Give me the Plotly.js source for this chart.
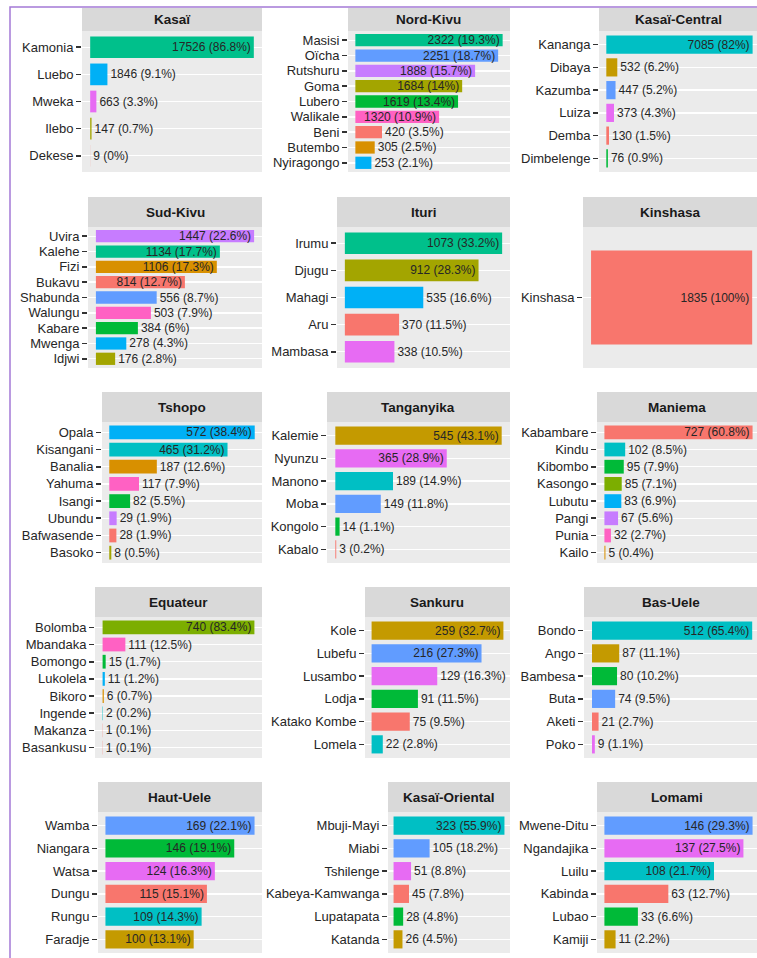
<!DOCTYPE html>
<html><head><meta charset="utf-8">
<script src="https://cdn.plot.ly/plotly-3.0.1.min.js"></script>
<style>html,body{margin:0;padding:0;background:#fff}#chart{width:757px;height:958px}</style>
</head><body><div id="chart"></div>
<script>
// ---------- DATA ----------
const kasai_names = ["Kamonia","Luebo","Mweka","Ilebo","Dekese"];
const kasai_values = [17526,1846,663,147,9];
const kasai_pct = ["86.8","9.1","3.3","0.7","0"];

const nordkivu_names = ["Masisi","Oïcha","Rutshuru","Goma","Lubero","Walikale","Beni","Butembo","Nyiragongo"];
const nordkivu_values = [2322,2251,1888,1684,1619,1320,420,305,253];
const nordkivu_pct = ["19.3","18.7","15.7","14","13.4","10.9","3.5","2.5","2.1"];

const kasaicentral_names = ["Kananga","Dibaya","Kazumba","Luiza","Demba","Dimbelenge"];
const kasaicentral_values = [7085,532,447,373,130,76];
const kasaicentral_pct = ["82","6.2","5.2","4.3","1.5","0.9"];

const sudkivu_names = ["Uvira","Kalehe","Fizi","Bukavu","Shabunda","Walungu","Kabare","Mwenga","Idjwi"];
const sudkivu_values = [1447,1134,1106,814,556,503,384,278,176];
const sudkivu_pct = ["22.6","17.7","17.3","12.7","8.7","7.9","6","4.3","2.8"];

const ituri_names = ["Irumu","Djugu","Mahagi","Aru","Mambasa"];
const ituri_values = [1073,912,535,370,338];
const ituri_pct = ["33.2","28.3","16.6","11.5","10.5"];

const kinshasa_names = ["Kinshasa"];
const kinshasa_values = [1835];
const kinshasa_pct = ["100"];

const tshopo_names = ["Opala","Kisangani","Banalia","Yahuma","Isangi","Ubundu","Bafwasende","Basoko"];
const tshopo_values = [572,465,187,117,82,29,28,8];
const tshopo_pct = ["38.4","31.2","12.6","7.9","5.5","1.9","1.9","0.5"];

const tanganyika_names = ["Kalemie","Nyunzu","Manono","Moba","Kongolo","Kabalo"];
const tanganyika_values = [545,365,189,149,14,3];
const tanganyika_pct = ["43.1","28.9","14.9","11.8","1.1","0.2"];

const maniema_names = ["Kabambare","Kindu","Kibombo","Kasongo","Lubutu","Pangi","Punia","Kailo"];
const maniema_values = [727,102,95,85,83,67,32,5];
const maniema_pct = ["60.8","8.5","7.9","7.1","6.9","5.6","2.7","0.4"];

const equateur_names = ["Bolomba","Mbandaka","Bomongo","Lukolela","Bikoro","Ingende","Makanza","Basankusu"];
const equateur_values = [740,111,15,11,6,2,1,1];
const equateur_pct = ["83.4","12.5","1.7","1.2","0.7","0.2","0.1","0.1"];

const sankuru_names = ["Kole","Lubefu","Lusambo","Lodja","Katako Kombe","Lomela"];
const sankuru_values = [259,216,129,91,75,22];
const sankuru_pct = ["32.7","27.3","16.3","11.5","9.5","2.8"];

const basuele_names = ["Bondo","Ango","Bambesa","Buta","Aketi","Poko"];
const basuele_values = [512,87,80,74,21,9];
const basuele_pct = ["65.4","11.1","10.2","9.5","2.7","1.1"];

const hautuele_names = ["Wamba","Niangara","Watsa","Dungu","Rungu","Faradje"];
const hautuele_values = [169,146,124,115,109,100];
const hautuele_pct = ["22.1","19.1","16.3","15.1","14.3","13.1"];

const kasaioriental_names = ["Mbuji-Mayi","Miabi","Tshilenge","Kabeya-Kamwanga","Lupatapata","Katanda"];
const kasaioriental_values = [323,105,51,45,28,26];
const kasaioriental_pct = ["55.9","18.2","8.8","7.8","4.8","4.5"];

const lomami_names = ["Mwene-Ditu","Ngandajika","Luilu","Kabinda","Lubao","Kamiji"];
const lomami_values = [146,137,108,63,33,11];
const lomami_pct = ["29.3","27.5","21.7","12.7","6.6","2.2"];

const province_titles = ["Kasaï","Nord-Kivu","Kasaï-Central","Sud-Kivu","Ituri","Kinshasa","Tshopo","Tanganyika","Maniema","Equateur","Sankuru","Bas-Uele","Haut-Uele","Kasaï-Oriental","Lomami"];

// ---------- STYLE ----------
const pal = {sal:"#F8766D", org:"#D89000", gold:"#C49A00", olv:"#A3A500", ygr:"#7CAE00", grn:"#00BA38",
  tgr:"#00C08B", cyn:"#00BFC4", sky:"#00B0F6", blu:"#619CFF", pur:"#C77CFF", mag:"#E76BF3", pnk:"#FF61C3"};
const colorKeys = [
  ["tgr","sky","mag","olv","sal"],
  ["tgr","blu","pur","olv","grn","pnk","sal","org","sky"],
  ["cyn","gold","blu","mag","sal","grn"],
  ["pur","tgr","org","sal","blu","pnk","grn","sky","olv"],
  ["tgr","olv","sky","sal","mag"],
  ["sal"],
  ["sky","cyn","org","pnk","grn","pur","sal","olv"],
  ["gold","mag","cyn","blu","grn","sal"],
  ["sal","cyn","grn","ygr","sky","pur","pnk","org"],
  ["ygr","pnk","grn","sky","org","cyn","sal","sal"],
  ["gold","blu","mag","grn","sal","cyn"],
  ["cyn","gold","grn","blu","sal","mag"],
  ["blu","grn","mag","sal","cyn","gold"],
  ["cyn","blu","mag","sal","grn","gold"],
  ["blu","mag","cyn","sal","grn","gold"]
];

const data_sets = [
  [kasai_names,kasai_values,kasai_pct],
  [nordkivu_names,nordkivu_values,nordkivu_pct],
  [kasaicentral_names,kasaicentral_values,kasaicentral_pct],
  [sudkivu_names,sudkivu_values,sudkivu_pct],
  [ituri_names,ituri_values,ituri_pct],
  [kinshasa_names,kinshasa_values,kinshasa_pct],
  [tshopo_names,tshopo_values,tshopo_pct],
  [tanganyika_names,tanganyika_values,tanganyika_pct],
  [maniema_names,maniema_values,maniema_pct],
  [equateur_names,equateur_values,equateur_pct],
  [sankuru_names,sankuru_values,sankuru_pct],
  [basuele_names,basuele_values,basuele_pct],
  [hautuele_names,hautuele_values,hautuele_pct],
  [kasaioriental_names,kasaioriental_values,kasaioriental_pct],
  [lomami_names,lomami_values,lomami_pct]
];

// ---------- LAYOUT GEOMETRY (pixels) ----------
const W = 757, H = 958;
const panelLeft = [[82,348,599],[88,337,583],[102,327,597],[95,365,584],[98,388,597]];
const panelRight = [262,510,757];
const rowTop = [31,227,422,617,812];
const panelH = 141, stripH = 30;
const FONT = "Liberation Sans, Arial, Helvetica, sans-serif";

const traces = [], layout = {
  width: W, height: H, margin:{l:0,r:0,t:0,b:0}, showlegend:false,
  paper_bgcolor:"#FFFFFF", plot_bgcolor:"#EBEBEB",
  font:{family:FONT, size:12, color:"#262626"},
  shapes:[], annotations:[]
};

for (let i=0;i<15;i++){
  const r = Math.floor(i/3), c = i%3;
  const [names, vals, pct] = data_sets[i];
  const n = names.length, mx = Math.max(...vals);
  const x0 = panelLeft[r][c], x1 = panelRight[c];
  const top = rowTop[r], bot = top + panelH;
  const ax = i===0 ? "" : String(i+1);
  const upper = c===2 ? 0.03 : 0.05;
  traces.push({
    type:"bar", orientation:"h", x: vals, y: names,
    xaxis:"x"+ax, yaxis:"y"+ax, width:0.8,
    marker:{color: colorKeys[i].map(k=>pal[k]), line:{width:0}},
    text: vals.map((v,j)=> v + " (" + pct[j] + "%)"),
    textposition: vals.map(v=> v/mx > 0.52 ? "inside" : "outside"),
    insidetextanchor:"end", constraintext:"none", cliponaxis:false,
    textfont:{family:FONT,size:12,color:"#262626"},
    insidetextfont:{family:FONT,size:12,color:"#262626"},
    outsidetextfont:{family:FONT,size:12,color:"#262626"},
    hoverinfo:"skip"
  });
  layout["xaxis"+ax] = {
    domain:[x0/W, x1/W], anchor:"y"+ax, range:[-0.05*mx, mx*(1+upper)],
    showgrid:false, zeroline:false, showticklabels:false, ticks:"", showline:false, fixedrange:true
  };
  layout["yaxis"+ax] = {
    domain:[(H-bot)/H, (H-top)/H], anchor:"x"+ax, type:"category",
    categoryarray:names, categoryorder:"array", range:[n-1+0.6, -0.6],
    tickmode:"array", tickvals:names, ticktext:names,
    showgrid:true, gridcolor:"#FFFFFF", gridwidth:1.4, zeroline:false, showline:false,
    ticks:"outside", ticklen:5, tickwidth:1.6, tickcolor:"#333333",
    tickfont:{family:FONT,size:13,color:"#262626"}, fixedrange:true
  };
  const sTop = r===0 ? 8 : top - stripH;
  layout.shapes.push({type:"rect", xref:"paper", yref:"paper", x0:x0/W, x1:x1/W,
    y0:(H-top)/H, y1:(H-sTop)/H, fillcolor:"#D9D9D9", line:{width:0}, layer:"below"});
  layout.annotations.push({xref:"paper", yref:"paper", x:(x0+x1)/2/W, y:(H-(sTop+top)/2)/H,
    text:"<b>"+province_titles[i]+"</b>", showarrow:false, xanchor:"center", yanchor:"middle",
    font:{family:FONT,size:13.5,color:"#1A1A1A"}});
}
// purple frame
layout.shapes.push({type:"rect", xref:"paper", yref:"paper", x0:10/W, x1:1.05, y0:-0.05, y1:(H-7)/H,
  line:{color:"#A47AD6", width:1.5}, fillcolor:"rgba(0,0,0,0)", layer:"above"});

Plotly.newPlot("chart", traces, layout, {displayModeBar:false, staticPlot:true});
</script></body></html>
